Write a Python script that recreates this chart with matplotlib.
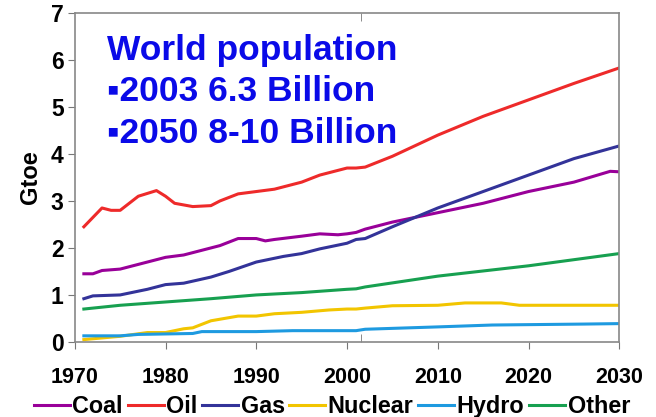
import matplotlib.pyplot as plt
from matplotlib.ticker import FixedLocator

plt.rcParams['font.family'] = ['Liberation Sans', 'DejaVu Sans']
plt.rcParams['font.weight'] = 'bold'

# Historical data + projection, Gtoe
coal_years = [1971, 1972, 1973, 1975, 1978, 1980, 1982, 1985, 1986, 1988, 1990, 1991, 1992, 1995, 1997, 1999, 2000, 2001,
              2002, 2005, 2010, 2015, 2020, 2025, 2029, 2030]
coal = [1.45, 1.45, 1.52, 1.55, 1.7, 1.8, 1.85, 2.0, 2.05, 2.2, 2.2, 2.15, 2.18, 2.25, 2.3, 2.28, 2.3, 2.33,
        2.4, 2.55, 2.75, 2.95, 3.2, 3.4, 3.63, 3.62]

oil_years = [1971, 1973, 1974, 1975, 1977, 1979, 1980, 1981, 1983, 1985, 1986, 1988, 1990, 1992, 1995, 1997, 2000,
             2001, 2002, 2005, 2010, 2015, 2020, 2025, 2030]
oil = [2.45, 2.85, 2.8, 2.8, 3.1, 3.22, 3.1, 2.95, 2.88, 2.9, 3.0, 3.15, 3.2, 3.25, 3.4, 3.55, 3.7,
       3.7, 3.72, 3.95, 4.4, 4.8, 5.15, 5.5, 5.83]

gas_years = [1971, 1972, 1975, 1978, 1980, 1982, 1985, 1987, 1990, 1993, 1995, 1997, 2000, 2001,
             2002, 2005, 2010, 2015, 2020, 2025, 2030]
gas = [0.92, 0.98, 1.0, 1.12, 1.22, 1.25, 1.38, 1.5, 1.7, 1.82, 1.88, 1.98, 2.1, 2.18,
       2.2, 2.45, 2.85, 3.2, 3.55, 3.9, 4.17]

nuclear_years = [1971, 1975, 1978, 1980, 1982, 1983, 1985, 1988, 1990, 1992, 1995, 1998, 2000, 2001,
                 2002, 2005, 2010, 2013, 2017, 2019, 2030]
nuclear = [0.05, 0.12, 0.2, 0.2, 0.28, 0.3, 0.45, 0.55, 0.55, 0.6, 0.63, 0.68, 0.7, 0.7,
           0.72, 0.77, 0.78, 0.83, 0.83, 0.78, 0.78]

hydro_years = [1971, 1975, 1977, 1983, 1984, 1990, 1994, 2000, 2001, 2002, 2010, 2016, 2026, 2030]
hydro = [0.13, 0.13, 0.16, 0.18, 0.22, 0.22, 0.24, 0.24, 0.24, 0.27, 0.32, 0.36, 0.38, 0.39]

other_years = [1971, 1975, 1980, 1985, 1990, 1995, 2000, 2001, 2002, 2010, 2020, 2030]
other = [0.7, 0.78, 0.85, 0.92, 1.0, 1.05, 1.12, 1.13, 1.17, 1.4, 1.62, 1.88]

fig = plt.figure(figsize=(6.56, 4.17), dpi=100)
ax = fig.add_axes([0.114, 0.18, 0.83, 0.789])

lw = 2.2
ax.plot(coal_years, coal, color='#990099', lw=lw, label='Coal')
ax.plot(oil_years, oil, color='#ee2a2a', lw=lw, label='Oil')
ax.plot(gas_years, gas, color='#333399', lw=lw, label='Gas')
ax.plot(nuclear_years, nuclear, color='#f2c500', lw=lw, label='Nuclear')
ax.plot(hydro_years, hydro, color='#1e9ae0', lw=lw, label='Hydro')
ax.plot(other_years, other, color='#17a050', lw=lw, label='Other')

ax.set_xlim(1970, 2030)
ax.set_ylim(0, 7)
ax.set_xticks(range(1970, 2031, 10))
ax.set_yticks(range(0, 8))
ax.xaxis.set_minor_locator(FixedLocator([2001.5]))
ax.tick_params(axis='x', which='minor', direction='in', length=6, top=True, color='#777777')
ax.tick_params(axis='x', which='major', labelsize=15.5, length=5, pad=13, color='#777777')
ax.tick_params(axis='y', labelsize=16.5, length=5, pad=3, color='#777777')
for s in ax.spines.values():
    s.set_color('#888888')
    s.set_linewidth(1.2)

ax.set_ylabel('Gtoe', fontsize=17, fontweight='bold', labelpad=6)

ax.text(0.059, 0.937, 'World population\n\u25aa2003 6.3 Billion\n\u25aa2050 8-10 Billion',
        transform=ax.transAxes, ha='left', va='top', color='#0a0ae8',
        fontsize=25.5, fontweight='bold', linespacing=1.34)

leg = fig.legend(loc='lower center', bbox_to_anchor=(0.506, -0.025), ncol=6, frameon=False,
                 fontsize=16.8, handlelength=1.55, handletextpad=0.1, columnspacing=0.2,
                 borderaxespad=0)

fig.savefig('out.png', dpi=100)
